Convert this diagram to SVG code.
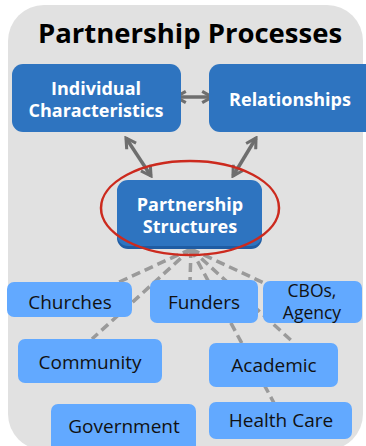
<svg xmlns="http://www.w3.org/2000/svg" width="366" height="446" viewBox="0 0 366 446">
<defs>
<style>
.dark{fill:#2E74C0;}
.light{fill:#62A9FF;}
.wt{font-family:"Open Sans","DejaVu Sans",sans-serif;font-weight:bold;font-size:18px;fill:#fff;text-anchor:middle;}
.bt{font-family:"Open Sans","DejaVu Sans",sans-serif;font-size:19px;fill:#111;text-anchor:middle;}
.sm{font-size:17.5px;}
.arr{stroke:#6E6E6E;stroke-width:3.5;fill:none;marker-start:url(#chev);marker-end:url(#chev);}
.dash{stroke:#9A9A9A;stroke-width:3.5;stroke-dasharray:9 5;fill:none;}
</style>
<marker id="chev" viewBox="0 0 10 10" refX="8.5" refY="5" markerWidth="14" markerHeight="14" markerUnits="userSpaceOnUse" orient="auto-start-reverse">
<path d="M1.5,1 L8.5,5 L1.5,9" fill="none" stroke="#6E6E6E" stroke-width="2.2"/>
</marker>
</defs>
<rect x="0" y="0" width="366" height="446" fill="#fff"/>
<rect x="8" y="5" width="355" height="445" rx="36" fill="#E1E1E1"/>
<text x="190" y="43" font-family="'Open Sans','DejaVu Sans',sans-serif" font-weight="bold" font-size="27.5" fill="#000" text-anchor="middle">Partnership Processes</text>

<g id="connectors">
<line class="arr" x1="176" y1="97" x2="212" y2="97"/>
<line class="arr" x1="126" y1="138" x2="151" y2="176"/>
<line class="arr" x1="256" y1="138" x2="233" y2="176"/>
<line class="dash" x1="191" y1="249" x2="117" y2="283"/>
<line class="dash" x1="191" y1="249" x2="92" y2="339"/>
<line class="dash" x1="191" y1="249" x2="190" y2="282"/>
<line class="dash" x1="191" y1="249" x2="274" y2="403"/>
<line class="dash" x1="191" y1="249" x2="294" y2="343"/>
<line class="dash" x1="191" y1="249" x2="264" y2="283"/>
</g>

<g id="individual">
<rect class="dark" x="12" y="64" width="169" height="68" rx="11"/>
<text class="wt" x="96" y="95">Individual</text>
<text class="wt" x="96" y="117">Characteristics</text>
</g>
<g id="relationships">
<rect class="dark" x="209" y="64" width="170" height="68" rx="11"/>
<text class="wt" x="290" y="106">Relationships</text>
</g>
<g id="structures">
<rect x="117" y="182" width="145" height="67" rx="11" fill="#1F5CA3"/>
<rect class="dark" x="117" y="180" width="145" height="66" rx="11"/>
<text class="wt" x="190" y="211">Partnership</text>
<text class="wt" x="190" y="233">Structures</text>
</g>
<g id="highlight">
<ellipse cx="190" cy="208" rx="89" ry="47" fill="none" stroke="#CC2A1E" stroke-width="2.5"/>
</g>

<g id="churches">
<rect class="light" x="7" y="282" width="125" height="35" rx="7"/>
<text class="bt" x="70" y="309">Churches</text>
</g>
<g id="funders">
<rect class="light" x="150" y="280" width="108" height="43" rx="7"/>
<text class="bt" x="204" y="309">Funders</text>
</g>
<g id="cbos">
<rect class="light" x="263" y="281" width="99" height="42" rx="7"/>
<text class="bt sm" x="312" y="297">CBOs,</text>
<text class="bt sm" x="312" y="319">Agency</text>
</g>
<g id="community">
<rect class="light" x="18" y="339" width="144" height="44" rx="7"/>
<text class="bt" x="90" y="369">Community</text>
</g>
<g id="academic">
<rect class="light" x="209" y="343" width="129" height="44" rx="7"/>
<text class="bt" x="274" y="372">Academic</text>
</g>
<g id="government">
<rect class="light" x="51" y="404" width="145" height="50" rx="7"/>
<text class="bt" x="124" y="433">Government</text>
</g>
<g id="healthcare">
<rect class="light" x="209" y="402" width="143" height="37" rx="7"/>
<text class="bt" x="281" y="427">Health Care</text>
</g>
</svg>
